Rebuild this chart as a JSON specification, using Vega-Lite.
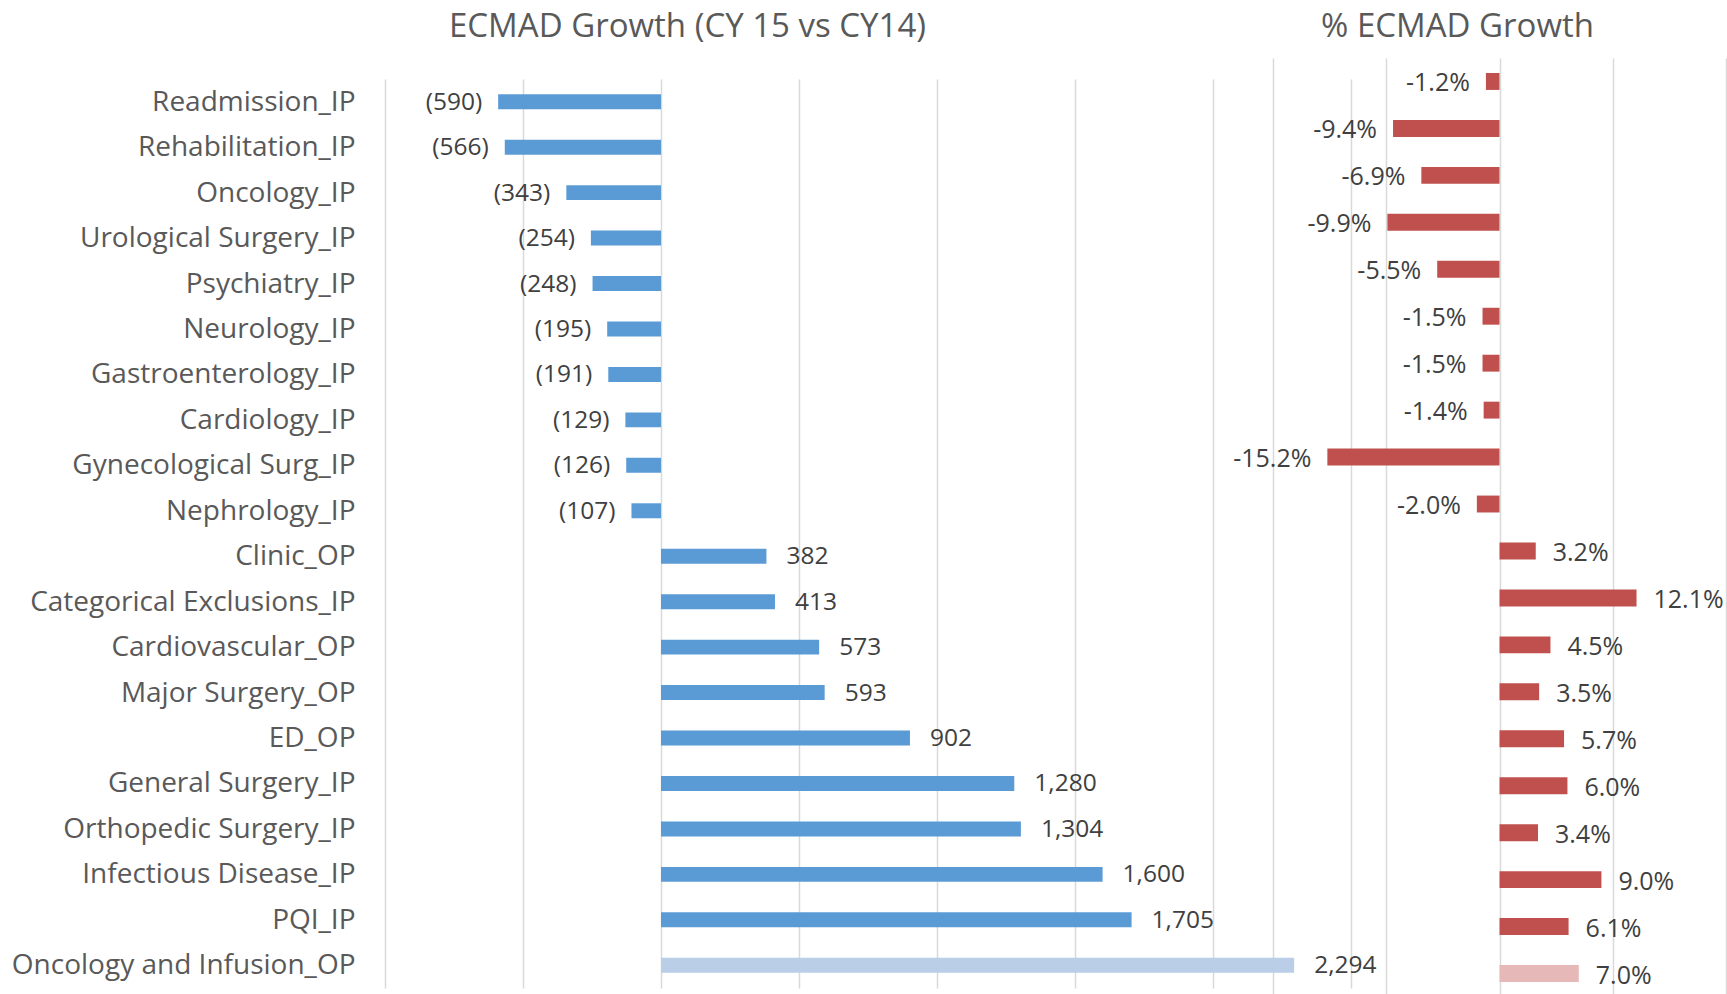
{
  "$schema": "https://vega.github.io/schema/vega-lite/v6.json",
  "width": 1341,
  "height": 929,
  "autosize": {"type": "none"},
  "padding": {"left": 385, "top": 58, "right": 1, "bottom": 7},
  "background": "white",
  "config": {
    "view": {"stroke": null},
    "font": "Open Sans",
    "locale": {"number": {"decimal": ".", "thousands": ",", "grouping": [3], "currency": ["$", ""], "minus": "-"}}
  },
  "data": {"values": [
    {"category": "Readmission_IP", "ecmad": -590, "pct": -0.012},
    {"category": "Rehabilitation_IP", "ecmad": -566, "pct": -0.094},
    {"category": "Oncology_IP", "ecmad": -343, "pct": -0.069},
    {"category": "Urological Surgery_IP", "ecmad": -254, "pct": -0.099},
    {"category": "Psychiatry_IP", "ecmad": -248, "pct": -0.055},
    {"category": "Neurology_IP", "ecmad": -195, "pct": -0.015},
    {"category": "Gastroenterology_IP", "ecmad": -191, "pct": -0.015},
    {"category": "Cardiology_IP", "ecmad": -129, "pct": -0.014},
    {"category": "Gynecological Surg_IP", "ecmad": -126, "pct": -0.152},
    {"category": "Nephrology_IP", "ecmad": -107, "pct": -0.020},
    {"category": "Clinic_OP", "ecmad": 382, "pct": 0.032},
    {"category": "Categorical Exclusions_IP", "ecmad": 413, "pct": 0.121},
    {"category": "Cardiovascular_OP", "ecmad": 573, "pct": 0.045},
    {"category": "Major Surgery_OP", "ecmad": 593, "pct": 0.035},
    {"category": "ED_OP", "ecmad": 902, "pct": 0.057},
    {"category": "General Surgery_IP", "ecmad": 1280, "pct": 0.060},
    {"category": "Orthopedic Surgery_IP", "ecmad": 1304, "pct": 0.034},
    {"category": "Infectious Disease_IP", "ecmad": 1600, "pct": 0.090},
    {"category": "PQI_IP", "ecmad": 1705, "pct": 0.061},
    {"category": "Oncology and Infusion_OP", "ecmad": 2294, "pct": 0.070}
  ]},
  "layer": [
    {
      "encoding": {
        "y": {
          "field": "category", "type": "nominal", "sort": null,
          "scale": {"range": [21, 930], "paddingInner": 0.67, "paddingOuter": 0.335},
          "axis": {
            "orient": "left", "title": null, "domain": false, "ticks": false, "tickSize": 0,
            "labelFont": "Open Sans", "labelFontSize": 28, "labelColor": "#595959",
            "labelPadding": 30, "labelLimit": 600, "labelOffset": 1
          }
        },
        "x": {
          "field": "ecmad", "type": "quantitative",
          "scale": {"domain": [-1000, 2500], "range": [0, 966], "nice": false, "zero": false},
          "axis": {
            "orient": "top", "title": "ECMAD Growth (CY 15 vs CY14)",
            "values": [-1000, -500, 0, 500, 1000, 1500, 2000, 2500],
            "grid": true, "gridColor": "#D9D9D9", "gridWidth": 1.5,
            "labels": false, "ticks": false, "domain": false,
            "titleFont": "Open Sans", "titleFontSize": 33, "titleFontWeight": "normal", "titleColor": "#595959",
            "titleX": 302, "titleY": -22, "titleAlign": "center", "titleBaseline": "alphabetic", "titleAnchor": null
          }
        }
      },
      "layer": [
        {
          "mark": {"type": "bar"},
          "encoding": {
            "color": {
              "condition": {"test": "datum.category === 'Oncology and Infusion_OP'", "value": "#BACFE7"},
              "value": "#5B9BD5"
            }
          }
        },
        {
          "transform": [{"filter": "datum.ecmad < 0"}],
          "mark": {"type": "text", "align": "right", "baseline": "middle", "dx": -16, "dy": 1, "fontSize": 24.5, "color": "#404040", "font": "Open Sans"},
          "encoding": {"text": {"field": "ecmad", "type": "quantitative", "format": "(,.0f"}}
        },
        {
          "transform": [{"filter": "datum.ecmad >= 0"}],
          "mark": {"type": "text", "align": "left", "baseline": "middle", "dx": 20, "dy": 1, "fontSize": 24.5, "color": "#404040", "font": "Open Sans"},
          "encoding": {"text": {"field": "ecmad", "type": "quantitative", "format": "(,.0f"}}
        }
      ]
    },
    {
      "encoding": {
        "y": {
          "field": "category", "type": "nominal", "sort": null,
          "scale": {"range": [0, 939], "paddingInner": 0.64, "paddingOuter": 0.32},
          "axis": null
        },
        "x": {
          "field": "pct", "type": "quantitative",
          "scale": {"domain": [-0.2, 0.2], "range": [888, 1341], "nice": false, "zero": false},
          "axis": {
            "orient": "top", "title": "% ECMAD Growth",
            "values": [-0.2, -0.1, 0, 0.1, 0.2],
            "grid": true, "gridColor": "#D9D9D9", "gridWidth": 1.5,
            "labels": false, "ticks": false, "domain": false,
            "titleFont": "Open Sans", "titleFontSize": 33, "titleFontWeight": "normal", "titleColor": "#595959",
            "titleX": 1072, "titleY": -22, "titleAlign": "center", "titleBaseline": "alphabetic", "titleAnchor": null
          }
        }
      },
      "layer": [
        {
          "mark": {"type": "bar"},
          "encoding": {
            "color": {
              "condition": {"test": "datum.category === 'Oncology and Infusion_OP'", "value": "#E6B9B8"},
              "value": "#C0504D"
            }
          }
        },
        {
          "transform": [{"filter": "datum.pct < 0"}],
          "mark": {"type": "text", "align": "right", "baseline": "middle", "dx": -16, "dy": 2, "fontSize": 25, "color": "#404040", "font": "Open Sans"},
          "encoding": {"text": {"field": "pct", "type": "quantitative", "format": ".1%"}}
        },
        {
          "transform": [{"filter": "datum.pct >= 0"}],
          "mark": {"type": "text", "align": "left", "baseline": "middle", "dx": 17, "dy": 2, "fontSize": 25, "color": "#404040", "font": "Open Sans"},
          "encoding": {"text": {"field": "pct", "type": "quantitative", "format": ".1%"}}
        }
      ]
    }
  ],
  "resolve": {"scale": {"x": "independent", "y": "independent"}, "axis": {"x": "independent", "y": "independent"}}
}
